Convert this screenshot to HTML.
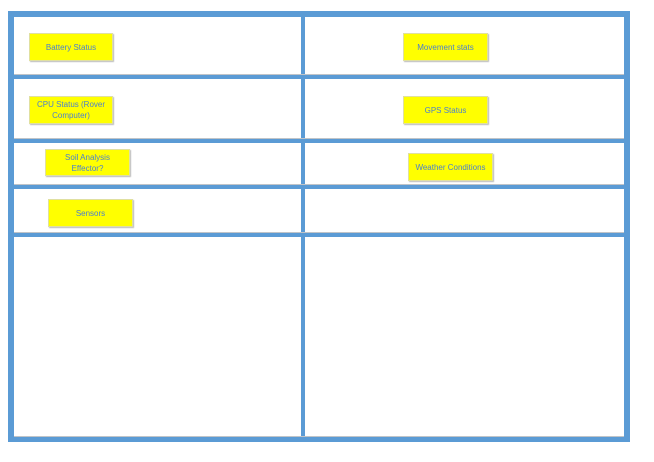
<!DOCTYPE html>
<html><head><style>
body{margin:0;width:654px;height:462px;background:#fff;position:relative;overflow:hidden;font-family:"Liberation Sans",sans-serif}
.b{position:absolute;background:#5b9bd5}
.g{position:absolute;background:#c0c4c8}
.y{position:absolute;background:#ffff00;box-shadow:1px 1px 1px #bbb;border:1px solid #e0e0a0;box-sizing:border-box;color:#4a7fd0;font-size:8px;line-height:11px;text-align:center;display:flex;align-items:center;justify-content:center}
</style></head><body>
<div class="b" style="left:8px;top:11px;width:622px;height:6px"></div>
<div class="b" style="left:8px;top:74px;width:622px;height:5px"></div>
<div class="b" style="left:8px;top:138px;width:622px;height:5px"></div>
<div class="b" style="left:8px;top:184px;width:622px;height:5px"></div>
<div class="b" style="left:8px;top:232px;width:622px;height:5px"></div>
<div class="b" style="left:8px;top:436px;width:622px;height:6px"></div>
<div class="b" style="left:8px;top:11px;width:6px;height:431px"></div>
<div class="b" style="left:624px;top:11px;width:6px;height:431px"></div>
<div class="b" style="left:301px;top:11px;width:4px;height:431px"></div>
<div class="g" style="left:14px;top:74px;width:610px;height:1px"></div>
<div class="g" style="left:14px;top:138px;width:610px;height:1px"></div>
<div class="g" style="left:14px;top:184px;width:610px;height:1px"></div>
<div class="g" style="left:14px;top:232px;width:610px;height:1px"></div>
<div class="g" style="left:14px;top:436px;width:610px;height:1px"></div>
<div class="y" style="left:29px;top:33px;width:84px;height:28px">Battery Status</div>
<div class="y" style="left:29px;top:96px;width:84px;height:28px">CPU Status (Rover<br>Computer)</div>
<div class="y" style="left:45px;top:149px;width:85px;height:27px">Soil Analysis<br>Effector?</div>
<div class="y" style="left:48px;top:199px;width:85px;height:28px">Sensors</div>
<div class="y" style="left:403px;top:33px;width:85px;height:28px">Movement stats</div>
<div class="y" style="left:403px;top:96px;width:85px;height:28px">GPS Status</div>
<div class="y" style="left:408px;top:153px;width:85px;height:28px">Weather Conditions</div>
</body></html>
